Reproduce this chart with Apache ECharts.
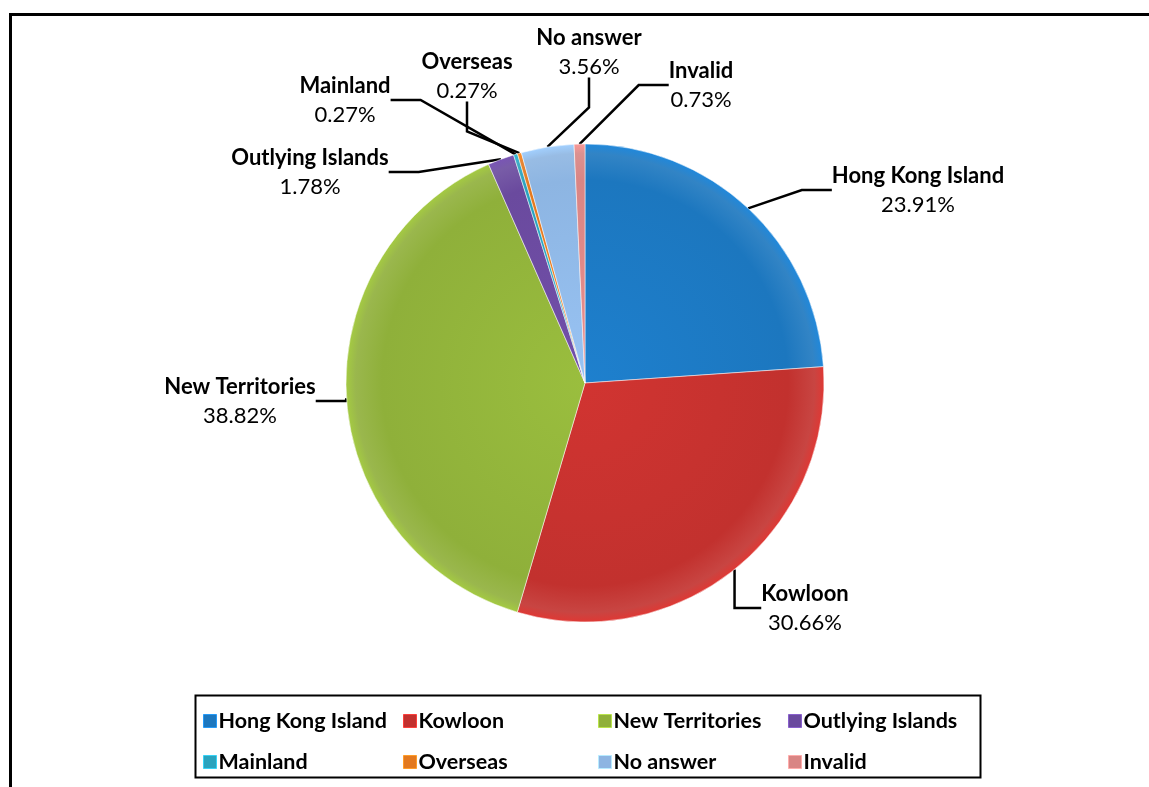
<!DOCTYPE html>
<html>
<head>
<meta charset="utf-8">
<script src="https://cdn.jsdelivr.net/npm/echarts@6/dist/echarts.min.js"></script>
<style>
  html, body { margin: 0; padding: 0; background: #fff; }
  #c1 { width: 1149px; height: 787px; }
</style>
</head>
<body>
<div id="c1"></div>
<script>
var regions = ['Hong Kong Island', 'Kowloon', 'New Territories', 'Outlying Islands',
               'Mainland', 'Overseas', 'No answer', 'Invalid'];
var shares = [23.91, 30.66, 38.82, 1.78, 0.27, 0.27, 3.56, 0.73];
var colors = ['#1c77bf', '#c2312e', '#8fb03a', '#6a4a9e', '#2aa3be', '#e3791f', '#8db5e2', '#d98584'];

// where each label block sits (centre of name + percent)
var labelSpots = [[918, 190], [805, 608], [240, 401], [310, 172],
                  [345, 100], [467, 76], [589, 52], [701, 85]];
// legend columns (left edge of each column)
var legendCols = [198, 398, 593, 783];

var cx = 585, cy = 383, rad = 239;

function shade(c) {
    return {
        type: 'radial', x: cx, y: cy, r: rad, global: true,
        colorStops: [
            { offset: 0, color: echarts.color.lift(c, -0.08) },
            { offset: 0.85, color: c },
            { offset: 0.96, color: echarts.color.lift(c, 0.1) },
            { offset: 1, color: echarts.color.lift(c, -0.15) }
        ]
    };
}

var chartDom = document.getElementById('c1');
var myChart = echarts.init(chartDom);
var option;

var pieData = [];
for (var i = 0; i < regions.length; i++) {
    pieData.push({ name: regions[i], value: shares[i], itemStyle: { color: shade(colors[i]) } });
}

var legends = [];
for (var k = 0; k < legendCols.length; k++) {
    legends.push({
        left: legendCols[k], top: 705,
        orient: 'vertical',
        itemWidth: 13, itemHeight: 13, itemGap: 19,
        icon: 'rect',
        data: [
            { name: regions[k], itemStyle: { color: colors[k], borderColor: echarts.color.lift(colors[k], -0.3), borderWidth: 1 } },
            { name: regions[k + 4], itemStyle: { color: colors[k + 4], borderColor: echarts.color.lift(colors[k + 4], -0.3), borderWidth: 1 } }
        ],
        textStyle: { fontFamily: 'Lato', fontWeight: 'bold', fontSize: 21.5, color: '#000', padding: [0, 0, 0, -3] }
    });
}

option = {
    animation: false,
    color: colors,
    graphic: [
        {
            type: 'rect',
            shape: { x: 10.5, y: 14.5, width: 1200, height: 900 },
            style: { fill: 'none', stroke: '#000', lineWidth: 3 }
        },
        {
            type: 'rect',
            shape: { x: 195.5, y: 695.5, width: 785, height: 82 },
            style: { fill: 'none', stroke: '#000', lineWidth: 2 }
        }
    ],
    legend: legends,
    series: [
        {
            name: 'Residence',
            type: 'pie',
            center: [cx, cy],
            radius: rad,
            startAngle: 90,
            clockwise: true,
            avoidLabelOverlap: false,
            itemStyle: { borderColor: 'rgba(255,255,255,0.5)', borderWidth: 1 },
            label: {
                show: true,
                position: 'outside',
                formatter: '{n|{b}}\n{p|{c}%}',
                rich: {
                    n: { fontFamily: 'Lato', fontWeight: 'bold', fontSize: 22, color: '#000', lineHeight: 29, align: 'center' },
                    p: { fontFamily: 'Lato', fontSize: 22, color: '#000', lineHeight: 29, align: 'center' }
                }
            },
            labelLine: {
                show: true,
                lineStyle: { color: '#000', width: 2.5 }
            },
            labelLayout: function (params) {
                var p = labelSpots[params.dataIndex];
                return { x: p[0], y: p[1], align: 'center', verticalAlign: 'middle' };
            },
            data: pieData
        }
    ]
};
myChart.setOption(option);
</script>
</body>
</html>
